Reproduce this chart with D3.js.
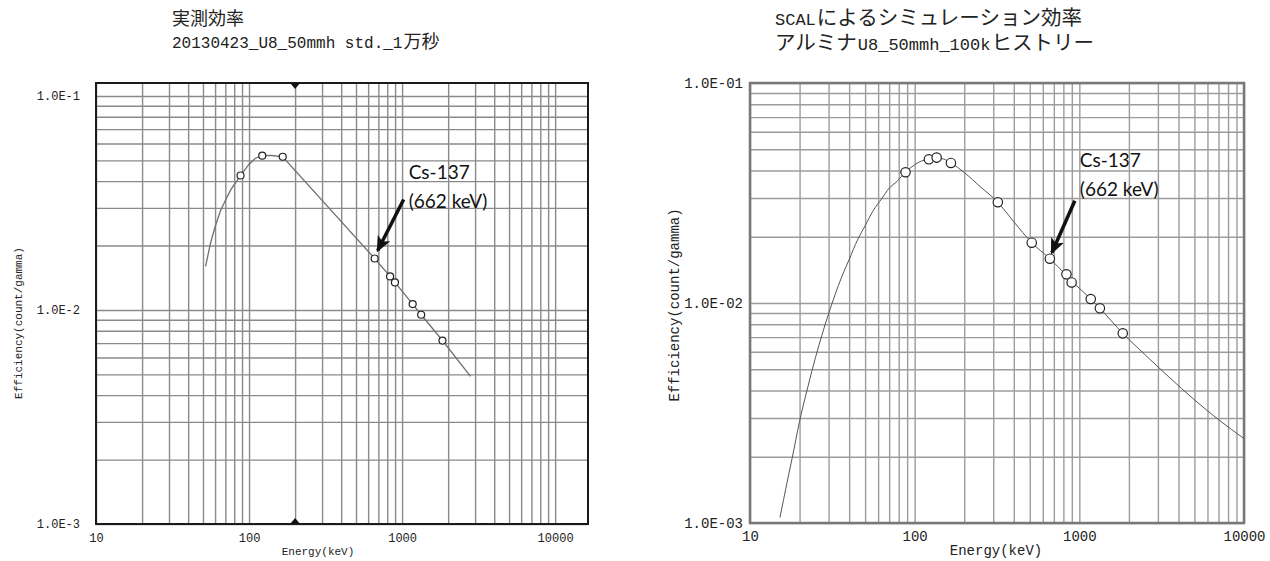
<!DOCTYPE html>
<html>
<head>
<meta charset="utf-8">
<script src="https://cdn.jsdelivr.net/npm/d3@7"></script>
<style>
  body { margin: 0; background: #fff; }
  svg { display: block; }
</style>
</head>
<body>
<svg id="chart" width="1270" height="561"></svg>
<script>
// ---- data ----
const xTicks = [10, 100, 1000, 10000];
const xTickLabels = ["10", "100", "1000", "10000"];
const yTicks = [0.1, 0.01, 0.001];
const leftYTickLabels = ["1.0E-1", "1.0E-2", "1.0E-3"];
const rightYTickLabels = ["1.0E-01", "1.0E-02", "1.0E-03"];

const leftTitle = ["実測効率", "20130423_U8_50mmh std._1万秒"];
const rightTitle = ["SCALによるシミュレーション効率", "アルミナU8_50mmh_100kヒストリー"];
const xTitle = "Energy(keV)";
const yTitle = "Efficiency(count/gamma)";
const noteLines = ["Cs-137", "(662 keV)"];
const markerE = 200;   // small triangles on the measured chart

// measured efficiency (left)
const leftCurveE   = [52, 56, 60, 65, 70, 76, 88, 100, 110, 122, 140, 166, 662, 835, 898, 1173, 1333, 1836, 2800];
const leftCurveEff = [0.016, 0.0205, 0.0245, 0.029, 0.0325, 0.0365, 0.0425, 0.048, 0.0512, 0.0526, 0.0527, 0.052,
                      0.0174, 0.01435, 0.01345, 0.01066, 0.0095, 0.0072, 0.0049];
const leftPointE   = [88, 122, 166, 662, 835, 898, 1173, 1333, 1836];
const leftPointEff = [0.0425, 0.0526, 0.052, 0.0174, 0.01435, 0.01345, 0.01066, 0.0095, 0.0072];

// simulated efficiency (right)
const rightCurveE   = [15.2, 16, 17, 18, 20, 22.5, 25, 30, 36, 40, 45, 50, 56, 63, 70, 78, 88, 100, 110, 122, 136,
                       150, 166, 200, 250, 320, 400, 514, 662, 835, 898, 1173, 1333, 1836, 2500, 3500, 5000, 7000, 10000];
const rightCurveEff = [0.00106, 0.00128, 0.0016, 0.00196, 0.0029, 0.00418, 0.00566, 0.00893, 0.0131, 0.01575,
                       0.01936, 0.02244, 0.0263, 0.02976, 0.03325, 0.03567, 0.0393, 0.0425, 0.0442, 0.045, 0.0456,
                       0.0451, 0.0433, 0.0392, 0.0338, 0.0287, 0.0234, 0.0188, 0.0159, 0.01335, 0.0126, 0.01043,
                       0.00946, 0.00728, 0.00583, 0.00461, 0.00363, 0.00295, 0.00242];
const rightPointE   = [88, 122, 136, 166, 320, 514, 662, 835, 898, 1173, 1333, 1836];
const rightPointEff = [0.0393, 0.045, 0.0458, 0.0433, 0.0287, 0.0188, 0.0159, 0.0135, 0.0124, 0.01043, 0.00946, 0.00728];

const svg = d3.select("#chart");

svg.append("defs").append("marker")
  .attr("id", "head")
  .attr("markerUnits", "userSpaceOnUse")
  .attr("viewBox", "0 0 16 14")
  .attr("refX", 14).attr("refY", 7)
  .attr("markerWidth", 16).attr("markerHeight", 14)
  .attr("orient", "auto")
  .append("path").attr("d", "M0,0 L16,7 L0,14 L4,7 Z").attr("fill", "#111");

// a title line: latin runs in a monospace face, CJK runs in a CJK face,
// each run its own text element placed after the previous one
function mixedText(g, str, x, y, latinSize, cjkSize) {
  let cx = x;
  str.match(/[\x00-\x7f]+|[^\x00-\x7f]+/g).forEach(run => {
    const ascii = /^[\x00-\x7f]/.test(run);
    const t = g.append("text").text(run)
      .attr("x", cx).attr("y", y).attr("fill", "#222")
      .attr("font-family", ascii ? "Liberation Mono, monospace" : "Noto Sans CJK JP, sans-serif")
      .attr("font-size", ascii ? latinSize : cjkSize);
    cx += t.node().getComputedTextLength() + 1;
  });
}

function panel(o) {
  const x = d3.scaleLog().domain(o.xDomain).range(o.xRange);
  const y = d3.scaleLog().domain(o.yDomain).range(o.yRange);
  const w = o.xRange[1] - o.xRange[0];
  const h = o.yRange[0] - o.yRange[1];
  const g = svg.append("g");

  // grid
  g.append("g")
    .attr("transform", `translate(0,${o.yRange[0]})`)
    .call(d3.axisBottom(x).tickValues(x.ticks()).tickSize(-h).tickFormat(""))
    .call(a => a.select(".domain").remove())
    .selectAll("line").attr("stroke", o.grid).attr("stroke-width", o.gridW);
  g.append("g")
    .attr("transform", `translate(${o.xRange[0]},0)`)
    .call(d3.axisLeft(y).tickValues(y.ticks()).tickSize(-w).tickFormat(""))
    .call(a => a.select(".domain").remove())
    .selectAll("line").attr("stroke", o.grid).attr("stroke-width", o.gridW);

  g.append("rect")
    .attr("x", o.xRange[0]).attr("y", o.yRange[1])
    .attr("width", w).attr("height", h)
    .attr("fill", "none").attr("stroke", o.frame).attr("stroke-width", o.frameW);

  // tick labels
  g.append("g")
    .attr("transform", `translate(0,${o.yRange[0]})`)
    .call(d3.axisBottom(x).tickValues(xTicks).tickFormat((d, i) => xTickLabels[i]).tickSize(0).tickPadding(o.xPad))
    .call(a => a.select(".domain").remove())
    .attr("font-family", "Liberation Mono, monospace").attr("font-size", o.tickSize)
    .selectAll("text").attr("fill", "#222");
  g.append("g")
    .attr("transform", `translate(${o.xRange[0]},0)`)
    .call(d3.axisLeft(y).tickValues(yTicks).tickFormat((d, i) => o.yLabels[i]).tickSize(0).tickPadding(o.yPad))
    .call(a => a.select(".domain").remove())
    .attr("font-family", "Liberation Mono, monospace").attr("font-size", o.tickSize)
    .selectAll("text").attr("fill", "#222");

  // axis titles
  g.append("text").text(xTitle)
    .attr("x", o.xTitlePos[0]).attr("y", o.xTitlePos[1])
    .attr("text-anchor", "middle").attr("dominant-baseline", "middle")
    .attr("font-family", "Liberation Mono, monospace").attr("font-size", o.titleSize).attr("fill", "#222");
  g.append("text").text(yTitle)
    .attr("transform", `translate(${o.yTitlePos[0]},${o.yTitlePos[1]}) rotate(-90)`)
    .attr("text-anchor", "middle").attr("dominant-baseline", "middle")
    .attr("font-family", "Liberation Mono, monospace").attr("font-size", o.titleSize).attr("fill", "#222");

  // curve + points
  const line = d3.line().x(d => x(d[0])).y(d => y(d[1])).curve(o.curve);
  g.append("path")
    .datum(o.curveE.map((e, i) => [e, o.curveEff[i]]))
    .attr("d", line)
    .attr("fill", "none").attr("stroke", o.lineColor).attr("stroke-width", o.lineW);
  g.selectAll("circle.pt")
    .data(o.pointE.map((e, i) => [e, o.pointEff[i]]))
    .join("circle").attr("class", "pt")
    .attr("cx", d => x(d[0])).attr("cy", d => y(d[1]))
    .attr("r", o.r)
    .attr("fill", "#fff").attr("stroke", "#222").attr("stroke-width", 1.2);

  // Cs-137 note, placed relative to the 662 keV point
  const cs = o.pointE.indexOf(662);
  const px = x(o.pointE[cs]), py = y(o.pointEff[cs]);
  const n = o.note;
  g.append("line")
    .attr("x1", px + n.tail[0]).attr("y1", py + n.tail[1])
    .attr("x2", px + n.tip[0]).attr("y2", py + n.tip[1])
    .attr("stroke", "#111").attr("stroke-width", 3.5)
    .attr("marker-end", "url(#head)");
  noteLines.forEach((s, i) => {
    g.append("text").text(s)
      .attr("x", px + n.text[0]).attr("y", py + n.text[1] + i * 29)
      .attr("font-family", "Lato, sans-serif").attr("font-size", 19).attr("fill", "#111");
  });

  // chart title
  o.title.forEach((s, i) => mixedText(g, s, o.titlePos[0], o.titlePos[1] + i * o.titleGap, o.titleLatin, o.titleCjk));

  return { g, x, y };
}

const left = panel({
  xDomain: [10, 16400], xRange: [96, 588],
  yDomain: [0.001, 0.115], yRange: [524, 83],
  grid: "#8a8a8a", gridW: 1.4, frame: "#1a1a1a", frameW: 2,
  xPad: 9, yPad: 16, yLabels: leftYTickLabels, tickSize: 12, titleSize: 11,
  xTitlePos: [318, 552], yTitlePos: [19, 323],
  curveE: leftCurveE, curveEff: leftCurveEff, curve: d3.curveLinear,
  pointE: leftPointE, pointEff: leftPointEff, r: 3.5,
  lineColor: "#707070", lineW: 1.3,
  note: { tip: [3, -8], tail: [29, -59], text: [34, -80] },
  title: leftTitle, titlePos: [172, 25], titleGap: 23, titleLatin: 16, titleCjk: 18
});

// small triangles at 200 keV on the frame
const tx = left.x(markerE);
const [yBot, yTop] = left.y.range();
left.g.append("path")
  .attr("d", `M${tx - 5},${yTop} L${tx + 5},${yTop} L${tx},${yTop + 6} Z M${tx - 5},${yBot} L${tx + 5},${yBot} L${tx},${yBot - 6} Z`)
  .attr("fill", "#111");

panel({
  xDomain: [10, 10000], xRange: [750, 1244],
  yDomain: [0.001, 0.1], yRange: [523, 83],
  grid: "#9c9c9c", gridW: 1.4, frame: "#787878", frameW: 2.5,
  xPad: 8, yPad: 7, yLabels: rightYTickLabels, tickSize: 14, titleSize: 14,
  xTitlePos: [996, 551], yTitlePos: [675, 305],
  curveE: rightCurveE, curveEff: rightCurveEff, curve: d3.curveMonotoneX,
  pointE: rightPointE, pointEff: rightPointEff, r: 4.7,
  lineColor: "#555", lineW: 1,
  note: { tip: [2, -6], tail: [25, -58], text: [30, -92] },
  title: rightTitle, titlePos: [775, 25], titleGap: 25, titleLatin: 17, titleCjk: 20.5
});
</script>
</body>
</html>
